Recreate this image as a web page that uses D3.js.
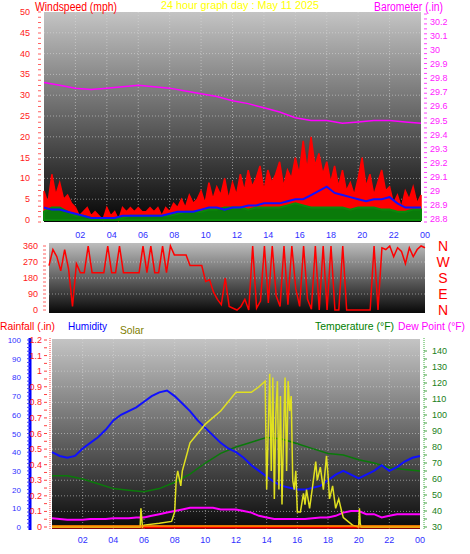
<!DOCTYPE html><html><head><meta charset="utf-8">
<script src="https://cdn.jsdelivr.net/npm/d3@7"></script>
<style>body{margin:0;background:#fff}svg{display:block;font-family:"Liberation Sans",Arial,sans-serif}</style></head><body>
<script>
const hourTicks=["02","04","06","08","10","12","14","16","18","20","22","00"];
const baro=[29.77,29.75,29.73,29.72,29.73,29.74,29.75,29.74,29.73,29.71,29.69,29.67,29.64,29.62,29.59,29.56,29.52,29.5,29.5,29.48,29.49,29.5,29.5,29.49,29.48];
const gust=[7,4,11,6,9,5,6,4,3,1,2,3,1,2,1,0,3,1,2,0,3,2,3,2,3,2,2,3,2,3,1,3,2,4,3,5,3,6,4,5,7,4,9,5,8,6,10,5,9,6,11,7,12,8,10,13,7,12,9,11,14,8,12,10,15,11,19,12,20,13,16,11,14,9,13,8,12,7,9,6,10,15,8,11,6,9,12,7,8,4,6,3,7,5,8,4,6];
const windAvg=[3,2.5,2.5,2,1.5,1,0.5,0.5,0.5,0.5,1,1,1,1,1,1,1.5,2,2,2,2.5,3,3,2.5,3,3,3.5,3.5,4,4,4,4.5,5,5,6,7,8,6.5,6,5.5,5,4.5,5,5,5.5,4,3,3,3];
const windLow=[2,3,3,2,1,1,0.5,0.5,0.5,0.5,0.5,1,1,1,1,1,1,1.5,2,2,2,2.5,2.5,3,3,3,2.5,3,3,3,3,3.5,4,3.5,3,3,3,3,3,2.5,3,3,3,2.5,2.5,2,2,2.5,2.5];
const windDir=[250,340,300,220,340,230,20,260,210,210,360,210,210,210,210,360,210,210,360,210,210,210,210,210,360,210,360,210,210,360,210,360,310,310,310,310,250,250,250,250,160,170,100,60,30,180,20,10,0,20,60,0,360,10,50,360,40,360,80,20,360,30,360,120,20,360,60,5,360,0,360,0,360,0,0,360,0,0,0,0,0,0,0,360,0,350,340,360,300,350,330,260,350,300,340,360,350];
const humidity=[40,38,37,38,42,45,48,52,57,60,62,64,67,70,72,73,70,66,62,57,53,49,45,42,40,37,33,30,27,24,22,21,20,20,21,22,25,28,30,28,26,28,30,33,30,32,35,37,38];
const temp=[62,62,60,57,54,53,52,54,58,63,70,76,80,83,86,85,82,79,76,75,72,70,67,66,65];
const dew=[35.5,35,34.5,34.5,34.5,35,35,35,35.5,35.5,35.5,36,36,37,38,39,40,41,42,42,42,42,41,41,41,40,39,37,36,35,35,35,35,35,35.5,36,36,37,39,40,40,38,38,36,37,38,38,38,38];
const rain=[0,0];
const solarHours=[0,5.75,5.8,5.9,6,7,7.8,8,8.1,8.2,8.4,8.5,9,10,11,12,13,13.5,13.9,14,14.2,14.3,14.4,14.5,14.6,14.7,14.8,14.9,15,15.1,15.2,15.3,15.4,15.5,15.6,15.7,15.8,15.9,16,16.2,16.4,16.5,16.6,16.8,17,17.2,17.3,17.5,17.7,17.9,18,18.1,18.3,18.5,18.7,18.9,19,19.3,19.6,20,20.05,20.1,20.15,24];
const solarVals=[0,0,10,0,1,2,3,8,25,30,22,30,45,55,62,72,72,75,78,20,82,30,80,15,60,78,20,70,12,50,80,30,78,62,70,25,20,30,8,8,18,12,20,10,22,35,25,32,20,38,28,15,22,10,15,8,5,3,1,0,10,2,0,0];

const W=470,H=554;
const svg=d3.select("body").append("svg").attr("width",W).attr("height",H);
const defs=svg.append("defs");
function grad(id,c0,c1){const g=defs.append("linearGradient").attr("id",id).attr("x1",0).attr("x2",0).attr("y1",0).attr("y2",1);
 g.append("stop").attr("offset",0).attr("stop-color",c0);g.append("stop").attr("offset",1).attr("stop-color",c1);}
grad("g1","#c4c4c4","#050505");grad("g2","#bdbdbd","#080808");grad("g3","#c4c4c4","#0a0a0a");
const grid="rgba(220,220,220,0.55)";
function hgrid(x0,x1,ys){ys.forEach(y=>svg.append("line").attr("x1",x0).attr("x2",x1).attr("y1",y).attr("y2",y).attr("stroke",grid).attr("stroke-dasharray","1,2"));}
function vgrid(xs,y0,y1){xs.forEach(x=>svg.append("line").attr("x1",x).attr("x2",x).attr("y1",y0).attr("y2",y1).attr("stroke",grid).attr("stroke-dasharray","1,2"));}
function txt(x,y,s,c,size,anchor,len){const t=svg.append("text").attr("x",x).attr("y",y).text(s).attr("fill",c).attr("font-size",size).attr("text-anchor",anchor||"start");
 if(len)t.attr("textLength",len).attr("lengthAdjust","spacingAndGlyphs");return t;}
function minor(x,y0,y1,n,c,dir){for(let i=0;i<=n;i++){const y=y0+(y1-y0)*i/n;svg.append("line").attr("x1",x).attr("x2",x+dir*3).attr("y1",y).attr("y2",y).attr("stroke",c);}}

// ---- top panel
const x1=d3.scaleLinear().domain([0,24]).range([44,421]);
const yW=d3.scaleLinear().domain([0,50]).range([220,12]);
const yB=d3.scaleLinear().domain([28.8,30.2]).range([219,22]);
svg.append("rect").attr("x",44).attr("y",12).attr("width",377).attr("height",210).attr("fill","url(#g1)");
hgrid(44,421,d3.range(5,50,5).map(yW));vgrid(d3.range(2,24,2).map(x1),12,222);
minor(38,12,222,40,"#ff6060",1);minor(424,14,222,42,"#ff40ff",1);
d3.range(0,51,5).forEach(v=>txt(30,yW(v)+3,v,"#ff2020",9,"end"));
d3.range(28.8,30.21,0.1).forEach(v=>txt(430,yB(v)+3,(+v.toFixed(1))+"","#ff20ff",9,"start"));
const t15=gust.map((d,i)=>i/4), t30=windAvg.map((d,i)=>i/2);
svg.append("path").datum(gust).attr("fill","#ff0000").attr("stroke","#ff0000").attr("stroke-width",1.5)
 .attr("d",d3.area().x((d,i)=>x1(t15[i])).y0(yW(0)).y1(d=>yW(d)));
svg.append("path").datum(windLow).attr("fill","#0a7a0a").attr("stroke","#0a8a0a").attr("stroke-width",2)
 .attr("d",d3.area().x((d,i)=>x1(t30[i])).y0(yW(0)).y1(d=>yW(d)));
svg.append("path").datum(windAvg).attr("fill","none").attr("stroke","#1010ff").attr("stroke-width",2)
 .attr("d",d3.line().x((d,i)=>x1(t30[i])).y(d=>yW(d)));
svg.append("path").datum(baro).attr("fill","none").attr("stroke","#ff00ff").attr("stroke-width",1.5)
 .attr("d",d3.line().x((d,i)=>x1(i)).y(d=>yB(d)));
txt(35,11,"Windspeed (mph)","#ff0000",12,"start",82);
txt(240,9,"24 hour graph day : May 11 2025","#ffff00",11,"middle",158);
txt(443,11,"Barometer (.in)","#ff00ff",12,"end",69);

// ---- direction panel
const x2=d3.scaleLinear().domain([0,24]).range([49,425]);
const yD=d3.scaleLinear().domain([0,360]).range([310,246]);
hourTicks.forEach((s,i)=>txt(x2(2*(i+1)),238,s,"#3030ff",9,"middle"));
svg.append("rect").attr("x",49).attr("y",243).attr("width",376).attr("height",70).attr("fill","url(#g2)");
hgrid(49,425,[90,180,270].map(yD));
minor(43,246,310,16,"#ff6060",1);
[0,90,180,270,360].forEach(v=>txt(38,yD(v)+3,v,"#ff2020",9,"end"));
svg.append("path").datum(windDir).attr("fill","none").attr("stroke","#ff0000").attr("stroke-width",1.5)
 .attr("d",d3.line().x((d,i)=>x2(i/4)).y(d=>yD(d)));
["N","W","S","E","N"].forEach((s,i)=>txt(443,yD(360-90*i)+5,s,"#ff0000",14,"middle"));

// ---- bottom panel
txt(0,330,"Rainfall (.in)","#ff0000",11,"start",55);txt(68,330,"Humidity","#0000ff",11,"start",39);txt(120,334,"Solar","#808000",11,"start",24);
txt(315,330,"Temperature (°F)","#008000",11,"start",79);txt(398,330,"Dew Point (°F)","#ff00ff",11,"start",67);
const x3=d3.scaleLinear().domain([0,24]).range([52,420]);
const yH=d3.scaleLinear().domain([0,100]).range([527,340]);
const yR=d3.scaleLinear().domain([0,1.2]).range([527,340]);
const yT=d3.scaleLinear().domain([30,140]).range([527,351]);
svg.append("rect").attr("x",52).attr("y",339).attr("width",368).attr("height",190).attr("fill","url(#g3)");
hgrid(52,420,d3.range(0.1,1.2,0.1).map(yR));vgrid(d3.range(2,24,2).map(x3),339,529);
svg.append("line").attr("x1",30).attr("x2",30).attr("y1",338).attr("y2",530).attr("stroke","#0000ff").attr("stroke-width",3);
minor(30,340,527,50,"#4040ff",-1);
d3.range(0,101,10).forEach(v=>txt(21,yH(v)+3,v,"#3030ff",8,"end"));
svg.append("line").attr("x1",50).attr("x2",50).attr("y1",338).attr("y2",530).attr("stroke","#ff4040").attr("stroke-dasharray","1,1");
minor(44,340,527,24,"#ff4040",1);
d3.range(0,1.21,0.1).forEach(v=>txt(42,yR(v)+3,(+v.toFixed(1))+"","#ff2020",9,"end"));
svg.append("line").attr("x1",424).attr("x2",424).attr("y1",338).attr("y2",530).attr("stroke","#40b040").attr("stroke-dasharray","1,1");
minor(424,351,527,22,"#40a040",1);
d3.range(30,141,10).forEach(v=>txt(432,yT(v)+3,v,"#208020",9,"start"));
hourTicks.forEach((s,i)=>txt(x3(2*(i+1)),543,s,"#3030ff",9,"middle"));
const lineT=(data,xs,y)=>d3.line().x((d,i)=>x3(xs(i))).y(d=>y(d));
svg.append("path").datum(rain).attr("stroke","#ff0000").attr("stroke-width",3).attr("fill","none").attr("d",lineT(rain,i=>i*24,yR));
svg.append("path").datum(temp).attr("stroke","#0a7a0a").attr("stroke-width",1.5).attr("fill","none").attr("d",lineT(temp,i=>i,yT));
svg.append("path").datum(dew).attr("stroke","#ff00ff").attr("stroke-width",2).attr("fill","none").attr("d",lineT(dew,i=>i/2,yT));
svg.append("path").datum(humidity).attr("stroke","#1010ff").attr("stroke-width",2).attr("fill","none").attr("d",lineT(humidity,i=>i/2,yH));
svg.append("path").datum(solarVals).attr("stroke","#e0e020").attr("stroke-width",1.5).attr("fill","none").attr("d",lineT(solarVals,i=>solarHours[i],yH));
svg.append("line").attr("x1",x3(0)).attr("x2",x3(24)).attr("y1",yR(0)-1).attr("y2",yR(0)-1).attr("stroke","#ff9900").attr("stroke-width",1.5);
</script></body></html>
